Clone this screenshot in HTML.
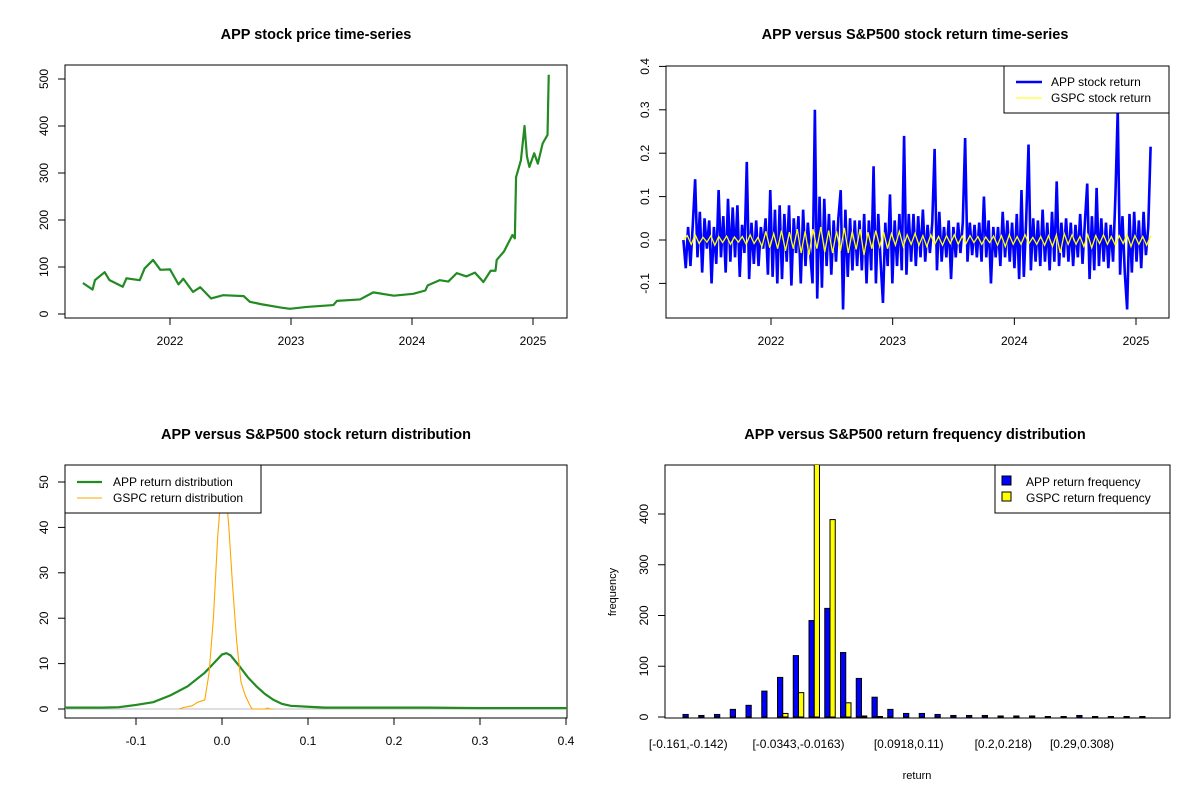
<!DOCTYPE html>
<html><head><meta charset="utf-8"><style>
body{margin:0;background:#fff}
svg{display:block;font-family:"Liberation Sans",Arial,sans-serif}
</style></head><body>
<svg id="fig" width="1200" height="800" viewBox="0 0 1200 800">
<defs>
<clipPath id="c1"><rect x="65" y="65" width="502" height="253"/></clipPath>
<clipPath id="c2"><rect x="666" y="66" width="503" height="252"/></clipPath>
<clipPath id="c3"><rect x="65" y="465" width="502" height="253"/></clipPath>
<clipPath id="c4"><rect x="665" y="465" width="505" height="253"/></clipPath>
</defs>
</svg>
<script>
// ---- data ----
const priceYears=[2021.28,2021.36,2021.38,2021.46,2021.50,2021.61,2021.64,2021.75,2021.79,2021.86,2021.92,2022.0,2022.07,2022.11,2022.19,2022.25,2022.34,2022.44,2022.61,2022.66,2022.75,2022.91,2022.99,2023.13,2023.35,2023.38,2023.57,2023.68,2023.85,2024.01,2024.11,2024.13,2024.23,2024.30,2024.37,2024.45,2024.52,2024.59,2024.65,2024.69,2024.70,2024.76,2024.83,2024.85,2024.86,2024.90,2024.93,2024.95,2024.97,2025.01,2025.04,2025.08,2025.12,2025.13];
const priceValues=[66,52,72,89,72,58,76,72,97,115,94,95,63,75,47,57,33,40,38,26,21,14,11,15,19,28,31,46,39,43,50,61,72,69,87,80,88,68,92,92,115,133,168,161,291,327,400,335,313,342,320,363,381,509];
const retStart=2021.28, retEnd=2025.12;
const appReturns=[0.0,-0.065,0.03,-0.06,0.035,0.14,-0.04,0.065,-0.075,0.05,
-0.02,0.045,-0.1,0.03,-0.055,0.115,-0.04,0.055,-0.075,0.095,
-0.05,0.075,-0.04,0.08,-0.085,0.035,-0.03,0.18,-0.09,0.04,
-0.055,0.045,-0.06,0.03,-0.02,0.05,-0.08,0.115,-0.085,0.07,
-0.1,0.08,-0.09,0.06,-0.05,0.08,-0.105,0.05,-0.03,0.055,
-0.1,0.07,-0.06,0.04,-0.03,-0.1,0.3,-0.135,0.1,-0.11,
0.095,-0.06,0.06,-0.08,0.045,-0.05,0.05,0.115,-0.16,0.07,
-0.085,0.05,-0.07,0.045,-0.06,0.045,-0.07,0.06,-0.1,0.045,
-0.07,0.17,-0.1,0.06,-0.05,-0.145,0.04,-0.06,0.105,-0.1,
0.045,-0.06,0.06,-0.07,0.24,-0.08,0.06,-0.05,0.06,-0.06,
0.055,-0.04,0.07,-0.05,0.035,-0.03,0.04,0.21,-0.07,0.065,
-0.05,0.03,-0.04,0.045,-0.09,0.03,-0.04,0.04,-0.03,0.04,
0.235,-0.05,0.04,-0.035,0.035,-0.04,0.04,-0.05,0.1,-0.04,
0.045,-0.1,0.03,-0.04,0.03,-0.06,0.065,-0.04,0.045,-0.05,
0.04,-0.065,0.06,-0.09,0.115,-0.085,0.045,0.22,-0.07,0.05,
-0.05,0.045,-0.06,0.07,-0.05,0.04,-0.07,0.065,-0.05,0.135,
-0.06,0.04,-0.04,0.05,-0.05,0.04,-0.06,0.035,-0.04,0.06,
-0.055,0.04,0.13,-0.09,0.055,-0.07,0.12,-0.06,0.05,-0.05,
0.04,-0.065,0.035,-0.05,0.1,0.3,-0.08,0.055,-0.075,-0.16,
0.06,-0.075,0.065,-0.05,0.045,-0.065,0.065,-0.035,0.03,0.215];
const gspcReturns=[0.0,0.01,-0.01,0.012,-0.008,0.006,-0.005,0.01,-0.012,0.008,
-0.006,0.009,-0.01,0.007,-0.005,0.008,-0.01,0.012,-0.008,0.006,
-0.015,0.02,-0.018,0.015,-0.02,0.022,-0.025,0.018,-0.02,0.025,
-0.03,0.02,-0.035,0.025,-0.02,0.03,-0.028,0.022,-0.03,0.02,
-0.025,0.028,-0.03,0.02,-0.022,0.025,-0.035,0.018,-0.02,0.022,
-0.015,0.018,-0.02,0.015,-0.012,0.02,-0.015,0.012,-0.01,0.015,
-0.012,0.01,-0.015,0.012,-0.01,0.008,-0.012,0.01,-0.008,0.012,
-0.01,0.009,-0.008,0.01,-0.006,0.008,-0.01,0.007,-0.006,0.009,
-0.012,0.01,-0.015,0.012,-0.01,0.008,-0.01,0.012,-0.008,0.006,
-0.01,0.008,-0.012,0.01,-0.015,0.012,-0.03,0.015,-0.01,0.012,
-0.01,0.008,-0.015,0.012,-0.018,0.01,-0.008,0.012,-0.01,0.008,
-0.012,0.01,-0.008,0.012,-0.015,0.01,-0.01,0.008,-0.012,0.01];
const densX=[-0.183,-0.17,-0.14,-0.12,-0.1,-0.08,-0.06,-0.04,-0.02,-0.01,0,0.005,0.01,0.02,0.03,0.04,0.05,0.06,0.07,0.08,0.1,0.12,0.16,0.2,0.24,0.3,0.402];
const appDens=[0.3,0.3,0.3,0.4,0.9,1.5,3,5,8,10,12,12.3,11.8,9.5,7,5,3.3,2,1.1,0.7,0.5,0.3,0.3,0.3,0.3,0.2,0.2];
const gspcDensX=[-0.05,-0.045,-0.035,-0.028,-0.02,-0.015,-0.01,-0.005,0,0.003,0.008,0.012,0.017,0.022,0.027,0.032,0.035,0.05,0.053,0.056,0.06];
const gspcDens=[0,0.3,0.7,1.5,2,8,20,38,50,51,40,28,15,6,3,1,0,0,0.2,0,0];
const histAppFreq=[5,3,5,15,23,51,78,121,190,214,127,76,39,15,7,7,5,3,3,3,2,2,2,1,1,3,1,1,1,1];
const histGspcFreq=[0,0,0,0,0,0,7,48,520,389,28,2,1,0,0,0,0,0,0,0,0,0,0,0,0,0,0,0,0,0];
const histLabelIdx=[0,7,14,20,25];
const histLabels=["[-0.161,-0.142)","[-0.0343,-0.0163)","[0.0918,0.11)","[0.2,0.218)","[0.29,0.308)"];
const yearTicks=[2022,2023,2024,2025];
const priceTicks=[0,100,200,300,400,500];
const retTicks=[-0.1,0,0.1,0.2,0.3,0.4];
const retTickLabels=["-0.1","0.0","0.1","0.2","0.3","0.4"];
const densXTicks=[-0.1,0,0.1,0.2,0.3,0.4];
const densXLabels=["-0.1","0.0","0.1","0.2","0.3","0.4"];
const densYTicks=[0,10,20,30,40,50];
const freqTicks=[0,100,200,300,400];

// ---- helpers ----
const S="http://www.w3.org/2000/svg";
const svg=document.getElementById('fig');
function mk(tag,attrs,parent){const e=document.createElementNS(S,tag);for(const k in attrs)e.setAttribute(k,attrs[k]);(parent||svg).appendChild(e);return e;}
function txt(x,y,s,size,anchor,rot,bold){const t=mk('text',{x:x,y:y,'font-size':size,'text-anchor':anchor||'middle',fill:'#000'});if(bold)t.setAttribute('font-weight','bold');if(rot)t.setAttribute('transform','rotate(-90 '+x+' '+y+')');t.textContent=s;return t;}

// axes maps
const x1=t=>170+(t-2022)*121, y1=v=>314-v*0.47;
const x2=t=>771+(t-2022)*121.67, y2=v=>240-v*434;
const x3=r=>222+r*860, y3=d=>709-d*4.54;
const y4=v=>717-v*0.5075;
const grpW=15.75, barW=5.25, bar0=683;

// titles
[[316,"APP stock price time-series","title-price"],[915,"APP versus S&P500 stock return time-series","title-returns"]].forEach(a=>{const t=txt(a[0],39,a[1],14.5,'middle',false,true);});
[[316,"APP versus S&P500 stock return distribution","title-distribution"],[915,"APP versus S&P500 return frequency distribution","title-frequency"]].forEach(a=>{const t=txt(a[0],439,a[1],14.5,'middle',false,true);});

// boxes
[[65,65,502,253,'price-plot-frame'],[666,66,503,252,'returns-plot-frame'],[65,465,502,253,'distribution-plot-frame'],[665,465,505,253,'frequency-plot-frame']].forEach(b=>{const r=mk('rect',{x:b[0],y:b[1],width:b[2],height:b[3],fill:'none',stroke:'#000','stroke-width':1});});

function xTicks(vals,labels,fx,yb,name){vals.forEach((v,i)=>{const x=fx(v);mk('line',{x1:x,y1:yb,x2:x,y2:yb+7,stroke:'#000'});const t=txt(x,yb+27,labels[i],12);});}
function yTicks(vals,labels,fy,xb,name){vals.forEach((v,i)=>{const y=fy(v);mk('line',{x1:xb,y1:y,x2:xb-7,y2:y,stroke:'#000'});const t=txt(xb-17,y,labels[i],12,'middle',true);});}

// Plot 1
xTicks(yearTicks,yearTicks.map(String),x1,318,'price-x-tick-label');
yTicks(priceTicks,priceTicks.map(String),y1,65,'price-y-tick-label');
const g1=mk('g',{'clip-path':'url(#c1)'});
const p1=mk('polyline',{points:priceYears.map((t,i)=>x1(t)+','+y1(priceValues[i])).join(' '),fill:'none',stroke:'#228B22','stroke-width':2.2,'stroke-linejoin':'round'},g1);



// Plot 2
xTicks(yearTicks,yearTicks.map(String),x2,318,'returns-x-tick-label');
yTicks(retTicks,retTickLabels,y2,666,'returns-y-tick-label');
const g2=mk('g',{'clip-path':'url(#c2)'});
const tAt=(i,n)=>retStart+(retEnd-retStart)*i/(n-1);
const p2=mk('polyline',{points:appReturns.map((v,i)=>x2(tAt(i,appReturns.length))+','+y2(v)).join(' '),fill:'none',stroke:'#0000FF','stroke-width':2.6},g2);


const p2b=mk('polyline',{points:gspcReturns.map((v,i)=>x2(tAt(i,gspcReturns.length))+','+y2(v)).join(' '),fill:'none',stroke:'#FFFF00','stroke-width':1.3},g2);


const lg2=mk('g',{});


mk('rect',{x:1004,y:66,width:165,height:47,fill:'#fff',stroke:'#000'},lg2);
mk('line',{x1:1016,y1:82,x2:1042,y2:82,stroke:'#0000FF','stroke-width':2.6},lg2);
mk('line',{x1:1016,y1:98,x2:1042,y2:98,stroke:'#FFFF00','stroke-width':1},lg2);
lg2.appendChild(txt(1051,86,'APP stock return',12,'start'));
lg2.appendChild(txt(1051,102,'GSPC stock return',12,'start'));

// Plot 3
xTicks(densXTicks,densXLabels,x3,718,'distribution-x-tick-label');
yTicks(densYTicks,densYTicks.map(String),y3,65,'distribution-y-tick-label');
const g3=mk('g',{'clip-path':'url(#c3)'});
const zl=mk('line',{x1:65,y1:y3(0),x2:567,y2:y3(0),stroke:'#bebebe','stroke-width':1},g3);


const p3=mk('polyline',{points:densX.map((r,i)=>x3(r)+','+y3(appDens[i])).join(' '),fill:'none',stroke:'#228B22','stroke-width':2.2},g3);


const p3b=mk('polyline',{points:gspcDensX.map((r,i)=>x3(r)+','+y3(gspcDens[i])).join(' '),fill:'none',stroke:'#FFA500','stroke-width':1.1},g3);


const lg3=mk('g',{});


mk('rect',{x:65,y:465,width:196,height:48,fill:'#fff',stroke:'#000'},lg3);
mk('line',{x1:77,y1:482,x2:102,y2:482,stroke:'#228B22','stroke-width':2.2},lg3);
mk('line',{x1:77,y1:498,x2:102,y2:498,stroke:'#FFA500','stroke-width':1},lg3);
lg3.appendChild(txt(113,486,'APP return distribution',12,'start'));
lg3.appendChild(txt(113,502,'GSPC return distribution',12,'start'));

// Plot 4
yTicks(freqTicks,freqTicks.map(String),y4,665,'frequency-y-tick-label');
const g4=mk('g',{'clip-path':'url(#c4)'});
histAppFreq.forEach((v,i)=>{
  const r=mk('rect',{x:bar0+i*grpW,y:y4(v),width:barW,height:y4(0)-y4(v),fill:'#0000FF',stroke:'#000','stroke-width':1},g4);
  
  
  const v2=histGspcFreq[i];
  const r2=mk('rect',{x:bar0+i*grpW+barW,y:y4(v2),width:barW,height:y4(0)-y4(v2),fill:'#FFFF00',stroke:'#000','stroke-width':1},g4);
  
  
});
histLabelIdx.forEach((k,j)=>{const t=txt(bar0+k*grpW+barW,748,histLabels[j],12);});
const xl=txt(917,779,'return',11);


const yl=txt(616,592,'frequency',11,'middle',true);


const lg4=mk('g',{});


mk('rect',{x:995,y:465,width:175,height:48,fill:'#fff',stroke:'#000'},lg4);
mk('rect',{x:1002,y:476,width:9,height:9,fill:'#0000FF',stroke:'#000'},lg4);
mk('rect',{x:1002,y:492,width:9,height:9,fill:'#FFFF00',stroke:'#000'},lg4);
lg4.appendChild(txt(1026,486,'APP return frequency',12,'start'));
lg4.appendChild(txt(1026,502,'GSPC return frequency',12,'start'));
</script>
</body></html>
